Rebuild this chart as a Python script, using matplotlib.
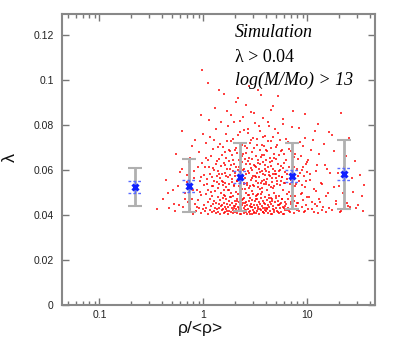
import matplotlib
matplotlib.use("Agg")
import matplotlib.pyplot as plt
import numpy as np

# ---- data: halo cloud ----
rho_pts = [0.36,0.41,0.44,0.47,
0.51,0.53,0.55,0.58,0.6,0.62,
0.64,0.66,0.68,0.7,0.71,0.73,0.74,0.76,0.77,0.78,
0.8,0.81,0.83,0.84,0.85,0.87,0.88,0.89,0.91,0.92,0.94,0.95,0.96,0.98,0.99,
1.01,1.02,1.04,1.05,1.06,1.07,1.09,1.1,1.11,1.12,1.14,1.15,1.16,1.17,1.18,1.19,1.2,1.21,1.22,1.23,1.24,1.25,
1.26,1.27,1.28,1.29,1.3,1.31,1.32,1.33,1.34,1.35,1.36,1.37,1.38,1.39,1.4,1.41,1.42,1.43,1.44,1.45,1.46,1.47,1.48,1.5,1.51,1.52,1.53,1.54,1.56,1.57,
1.58,1.59,1.6,1.61,1.62,1.63,1.64,1.65,1.66,1.67,1.69,1.7,1.71,1.72,1.73,1.75,1.76,1.77,1.78,1.8,1.81,1.82,1.84,1.85,1.86,1.87,1.89,1.9,1.91,1.93,1.94,1.95,1.97,1.98,1.99,
2.0,2.01,2.03,2.04,2.05,2.07,2.08,2.09,2.11,2.12,2.14,2.15,2.16,2.18,2.19,2.2,2.22,2.23,2.25,2.26,2.28,2.29,2.31,2.32,2.34,2.35,2.37,2.38,2.4,2.41,2.43,2.44,2.45,2.47,2.48,2.49,2.5,2.51,
2.53,2.54,2.56,2.57,2.59,2.6,2.62,2.63,2.65,2.66,2.68,2.69,2.71,2.73,2.74,2.76,2.77,2.79,2.81,2.82,2.84,2.86,2.87,2.89,2.91,2.92,2.94,2.96,2.97,2.99,3.01,3.03,3.04,3.06,3.08,3.1,3.12,3.14,
3.17,3.19,3.21,3.23,3.25,3.27,3.29,3.31,3.33,3.35,3.37,3.39,3.41,3.43,3.45,3.47,3.49,3.52,3.54,3.56,3.58,3.61,3.63,3.65,3.68,3.7,3.72,3.75,3.77,3.79,3.82,3.84,3.87,3.89,3.92,3.95,
3.98,4.01,4.04,4.07,4.1,4.13,4.16,4.19,4.22,4.25,4.28,4.31,4.34,4.37,4.4,4.43,4.46,4.49,4.53,4.56,4.59,4.63,4.66,4.69,4.73,4.76,4.8,4.83,4.87,4.91,4.95,4.98,
5.03,5.08,5.12,5.17,5.21,5.26,5.3,5.35,5.4,5.44,5.49,5.54,5.59,5.64,5.69,5.74,5.79,5.84,5.89,5.94,6.0,6.05,6.11,6.16,6.22,6.27,
6.35,6.43,6.5,6.58,6.66,6.74,6.82,6.9,6.98,7.07,7.15,7.24,7.32,7.41,7.5,7.59,7.68,7.77,7.86,7.92,
8.05,8.2,8.35,8.5,8.66,8.82,8.98,9.15,9.3,9.45,9.6,9.75,9.88,9.97,
10.2,10.6,10.9,11.2,11.5,11.8,12.0,12.3,12.5,
12.9,13.5,14.0,14.6,15.1,15.6,
16.3,17.1,17.9,18.8,19.6,
20.8,22.1,23.5,24.6,
26.8,29.5,33.5]

lam_pts = [0.0425,0.0468,0.0553,0.0431,
0.0512,0.0418,0.0672,0.0445,0.0589,0.0774,
0.0436,0.0497,0.0412,0.0545,0.0458,0.0635,0.0427,0.0521,0.0706,0.0471,
0.0404,0.0563,0.0449,0.0733,0.0418,0.0512,0.0466,0.0611,0.0432,0.0548,0.0408,0.0842,0.0487,0.1045,0.0426,
0.0441,0.0578,0.0415,0.0493,0.0652,0.0429,0.0536,0.0457,0.0987,0.0405,0.0614,0.0472,0.0421,0.0745,0.0503,0.0438,0.0569,0.0411,0.0484,0.0691,0.0447,0.0527,
0.0416,0.0461,0.0598,0.0432,0.0507,0.0409,0.0783,0.0453,0.0544,0.0424,0.0637,0.0479,0.0412,0.0518,0.0446,0.0956,0.0431,0.0582,0.0467,0.0403,0.0716,0.0495,0.0438,0.0552,0.0419,0.0664,0.0474,0.0427,0.0531,0.0451,
0.0407,0.0489,0.0621,0.0436,0.0542,0.0414,0.0758,0.0468,0.0425,0.0573,0.0448,0.0862,0.0401,0.0511,0.0433,0.0687,0.0459,0.0417,0.0536,0.0442,0.0603,0.0478,0.0411,0.0726,0.0498,0.0429,0.0559,0.0454,0.0406,0.0644,0.0485,0.0421,0.0527,0.0814,0.0439,
0.0463,0.0412,0.0586,0.0447,0.0503,0.0424,0.0695,0.0471,0.0408,0.0549,0.0435,0.0917,0.0492,0.0419,0.0612,0.0457,0.0431,0.0524,0.0768,0.0446,0.0403,0.0568,0.0481,0.0427,0.0659,0.0514,0.0441,0.0416,0.0597,0.0469,0.0835,0.0432,0.0538,0.0409,0.0476,0.0704,0.0452,0.0423,
0.0561,0.0437,0.0498,0.0414,0.0673,0.0455,0.0402,0.0532,0.0444,0.0781,0.0487,0.0426,0.0594,0.0461,0.0411,0.0519,0.0972,0.0438,0.0626,0.0473,0.0418,0.0555,0.0449,0.0731,0.0405,0.0506,0.0433,0.0648,0.0466,0.0421,0.0574,0.0494,0.0441,0.0853,0.0412,0.0528,0.0459,0.0617,
0.0429,0.0483,0.0407,0.0566,0.0445,0.0712,0.0468,0.0416,0.0541,0.0434,0.0629,0.0491,0.0403,0.0795,0.0457,0.0513,0.0425,0.0588,0.0448,0.0931,0.0474,0.0419,0.0552,0.0437,0.0667,0.0501,0.0411,0.0463,0.0745,0.0428,0.0536,0.0452,0.0406,0.0603,0.0479,0.0432,
0.0545,0.0418,0.0687,0.0464,0.0427,0.0508,0.0441,0.0812,0.0409,0.0577,0.0486,0.0433,0.0634,0.0455,0.0415,0.0523,0.0726,0.0447,0.0404,0.0562,0.0472,0.0884,0.0424,0.0517,0.0439,0.0651,0.0495,0.0413,0.0581,0.0458,0.0431,0.0703,
0.0476,0.0417,0.0549,0.0443,0.0762,0.0462,0.0408,0.0596,0.0484,0.0429,0.0532,0.0683,0.0451,0.0414,0.0567,0.0469,0.0825,0.0436,0.0512,0.0405,0.0628,0.0457,0.0422,0.0543,0.0738,0.0446,
0.0419,0.0581,0.0472,0.0431,0.0694,0.0503,0.0412,0.0556,0.0448,0.0791,0.0427,0.0529,0.0463,0.0614,0.0409,0.0485,0.0668,0.0437,0.0537,0.0421,
0.0574,0.0452,0.0416,0.0723,0.0491,0.0433,0.0598,0.0465,0.0411,0.0847,0.0521,0.0442,0.0636,0.0478,
0.0424,0.0553,0.0687,0.0457,0.0412,0.0772,0.0506,0.0438,0.0621,
0.0468,0.0541,0.0419,0.0715,0.0483,0.0604,
0.0432,0.0756,0.0524,0.0447,0.0584,
0.0413,0.0497,0.0663,0.0439,
0.0562,0.0428,0.0485]

# second batch of cloud points (middle band and far right)
rho_pts2 = [0.46,0.52,0.57,0.63,0.67,0.69,0.75,0.79,0.82,0.86,0.9,0.93,0.95,0.97,0.99,
1.01,1.03,1.05,1.08,1.1,1.12,1.14,1.16,1.19,1.21,1.24,1.26,1.28,1.3,1.32,1.35,1.37,1.39,1.41,1.43,1.45,1.47,1.49,1.51,1.53,1.55,1.57,1.58,1.59,1.6,
1.62,1.64,1.66,1.68,1.7,1.72,1.74,1.76,1.78,1.8,1.82,1.84,1.86,1.88,1.9,1.92,1.94,1.96,1.98,2.0,2.03,2.05,2.07,2.1,2.12,2.15,2.17,2.2,2.22,2.25,2.27,2.3,2.32,2.35,2.37,2.4,2.42,2.44,2.46,2.48,2.5,2.52,2.55,2.57,2.6,
2.62,2.65,2.68,2.7,2.73,2.76,2.79,2.82,2.85,2.88,2.91,2.94,2.97,3.0,3.03,3.06,3.09,3.12,3.15,3.18,3.21,3.24,3.27,3.3,3.33,3.36,3.39,3.42,3.45,3.48,3.51,3.54,3.57,3.6,3.63,3.66,3.69,3.72,3.75,3.78,3.81,3.84,3.87,3.9,3.93,3.96,3.99,4.02,4.05,4.08,
4.12,4.16,4.2,4.24,4.28,4.32,4.36,4.4,4.44,4.48,4.52,4.56,4.6,4.64,4.68,4.72,4.77,4.81,4.86,4.9,4.95,5.0,5.05,5.1,5.15,5.2,5.25,5.3,5.36,5.41,5.47,5.53,5.59,5.65,5.71,5.78,5.85,5.92,6.0,6.1,
6.3,6.42,6.55,6.68,6.8,6.94,7.08,7.22,7.36,7.5,7.65,7.8,7.95,8.1,8.25,8.4,8.55,8.7,8.86,9.02,9.18,9.34,9.5,9.66,9.82,9.97,7.0,8.0,8.9,9.6,
10.1,10.4,10.7,11.0,11.3,11.6,11.9,12.2,12.6,13.0,13.3,13.8,14.3,14.8,15.3,15.9,16.6,17.4,18.2,19.0,20.0,21.3,22.6,23.9,25.2,26.0,27.8,28.5,30.5,31.8,34.0,35.5,12.8,16.0,21.0,
1.52,1.68,1.83,1.97,2.11,2.27,2.43,2.58,2.74,2.9,3.07,3.22,3.38,3.55,3.71,3.88,4.06,4.24,4.43,4.61,4.8,5.0,5.22,5.45,5.67,5.9,6.15,6.4,6.7,7.0,1.6,2.0,2.36,2.8,3.3,3.9,4.5,5.3,6.0,7.4]

lam_pts2 = [0.0497,0.0446,0.0528,0.0603,0.0469,0.0578,0.0651,0.0509,0.0592,0.0434,0.0677,0.0501,0.0569,0.0628,0.0759,
0.0532,0.0612,0.0718,0.0559,0.0643,0.0508,0.0823,0.0581,0.0662,0.0528,0.0609,0.0734,0.0551,0.0876,0.0624,0.0574,0.0703,0.0596,0.0535,0.0648,0.0565,0.0811,0.0617,0.0583,0.0702,0.0546,0.0938,0.0631,0.0509,0.0677,
0.0587,0.0651,0.0523,0.0726,0.0604,0.0566,0.0793,0.0639,0.0512,0.0685,0.0578,0.0619,0.0842,0.0547,0.0665,0.0593,0.0737,0.0533,0.0626,0.0689,0.0571,0.0902,0.0614,0.0548,0.0674,0.0597,0.0752,0.0526,0.0643,0.0588,0.0817,0.0609,0.0556,0.0711,0.0632,0.0573,0.0668,0.0539,0.0776,0.0601,0.0647,0.0516,0.0889,0.0624,0.0579,
0.0695,0.0541,0.0637,0.0763,0.0585,0.0652,0.0527,0.0718,0.0606,0.0858,0.0562,0.0679,0.0598,0.0741,0.0534,0.0623,0.0695,0.0574,0.0806,0.0611,0.0549,0.0662,0.0587,0.0736,0.0521,0.0644,0.0953,0.0602,0.0569,0.0689,0.0627,0.0774,0.0543,0.0658,0.0596,0.0712,0.0518,0.0635,0.0829,0.0581,0.0667,0.0553,0.0704,0.0619,0.0577,0.0748,0.0536,0.0641,0.0592,0.0681,
0.0558,0.0727,0.0614,0.0531,0.0796,0.0589,0.0653,0.0571,0.0698,0.0615,0.0865,0.0544,0.0637,0.0582,0.0747,0.0603,0.0527,0.0671,0.0594,0.0779,0.0562,0.0648,0.0581,0.0712,0.0538,0.0626,0.0927,0.0573,0.0664,0.0599,0.0732,0.0548,0.0617,0.0688,0.0566,0.0805,0.0607,0.0541,0.0672,0.0589,
0.0641,0.0557,0.0724,0.0612,0.0535,0.0683,0.0594,0.0861,0.0572,0.0656,0.0529,0.0717,0.0603,0.0648,0.0551,0.0785,0.0587,0.0663,0.0532,0.0704,0.0612,0.0574,0.0739,0.0551,0.0627,0.0589,0.0481,0.0452,0.0497,0.0418,
0.0643,0.0479,0.0582,0.0426,0.0731,0.0514,0.0448,0.0596,0.0409,0.0672,0.0457,0.0538,0.0434,0.0619,0.0412,0.0498,0.0584,0.0421,0.0683,0.0462,0.0527,0.0416,0.0612,0.0453,0.0742,0.0434,0.0501,0.0638,0.0443,0.0577,0.0418,0.0531,0.0802,0.0769,0.0851,
0.0442,0.0415,0.0478,0.0429,0.0461,0.0403,0.0452,0.0419,0.0487,0.0436,0.0408,0.0469,0.0427,0.0493,0.0414,0.0448,0.0431,0.0476,0.0402,0.0459,0.0423,0.0484,0.0411,0.0446,0.0472,0.0405,0.0438,0.0491,0.0417,0.0455,0.0481,0.0437,0.0466,0.0401,0.0489,0.0421,0.0474,0.0444,0.0428,0.0463]

# binned means with scatter bars
bin_rho = [0.22, 0.72, 2.25, 7.2, 22.3]
bin_lam = [0.0524, 0.0529, 0.0566, 0.0571, 0.0580]
bin_lo = [0.0440, 0.0411, 0.0415, 0.0424, 0.0424]
bin_hi = [0.0607, 0.0646, 0.0717, 0.0717, 0.0731]
bin_err = [0.0027, 0.0027, 0.0027, 0.0027, 0.0027]

n1 = min(len(rho_pts), len(lam_pts))
n2 = min(len(rho_pts2), len(lam_pts2))
xs = list(rho_pts[:n1]) + list(rho_pts2[:n2])
ys = list(lam_pts[:n1]) + list(lam_pts2[:n2])

fig = plt.figure(figsize=(3.95, 3.38), dpi=100)
ax = fig.add_axes([62/395, 1-304.7/338, 313/395, 290.7/338])

ax.scatter(xs, ys, s=4.5, marker='s', c='#ff0000', alpha=0.75, linewidths=0, zorder=2)

bx = np.array(bin_rho); by = np.array(bin_lam)
lo = by - np.array(bin_lo); hi = np.array(bin_hi) - by
eb = ax.errorbar(bx, by, yerr=[lo, hi], fmt='none', ecolor='#b0b0b0', elinewidth=2,
                 capsize=5, capthick=1.5, zorder=3)
for cl in eb[1]:
    cl.set_color('#666666')
be = np.array(bin_err)
f = 10**(7/104)
ax.hlines(np.concatenate([by-be, by+be]), np.concatenate([bx/f, bx/f]), np.concatenate([bx*f, bx*f]),
          colors='#5a6cff', linestyles=(0, (2, 1.5)), linewidth=1, zorder=4)
ax.vlines(bx, by-be, by+be, colors='#5a6cff', linewidth=1, zorder=4)
ax.plot(bx, by, linestyle='none', marker='x', color='#1020ff', markersize=5, mew=2.2, zorder=5)

ax.set_xscale('log')
ax.set_xlim(0.0437, 44.8)
ax.set_ylim(0, 0.1292)
ax.set_yticks([0, 0.02, 0.04, 0.06, 0.08, 0.1, 0.12])
ax.set_yticklabels(['0', '0.02', '0.04', '0.06', '0.08', '0.1', '0.12'])
ax.set_xticks([0.1, 1, 10])
ax.set_xticklabels(['0.1', '1', '10'])

for lab in ax.get_xticklabels() + ax.get_yticklabels():
    lab.set_fontfamily(['Liberation Sans', 'DejaVu Sans'])
    lab.set_fontsize(7.5)
    lab.set_color('#222222')

ax.tick_params(which='both', direction='in', top=True, right=True, color='#777777')
ax.tick_params(which='major', length=5, width=1)
ax.tick_params(axis='y', which='major', pad=6)
ax.tick_params(axis='x', which='major', pad=4)
ax.tick_params(which='minor', length=3, width=1)
for sp in ax.spines.values():
    sp.set_color('#888888')
    sp.set_linewidth(1.5)

fig.text(200/395, 1-329/338, 'ρ/<ρ>', ha='center', va='center', fontsize=12.5,
         family=['Liberation Sans', 'DejaVu Sans'], color='#111111')
fig.text(10/395, 1-158/338, 'λ', ha='center', va='center', rotation=90, fontsize=13,
         family=['Liberation Sans', 'DejaVu Sans'], color='#111111')

ax.text(0.553, 0.935, 'Simulation', transform=ax.transAxes, ha='left', va='center',
        fontsize=13, style='italic', family=['Liberation Serif', 'DejaVu Serif'], zorder=6)
ax.text(0.553, 0.852, 'λ > 0.04', transform=ax.transAxes, ha='left', va='center',
        fontsize=13, family=['Liberation Serif', 'DejaVu Serif'], zorder=6)
ax.text(0.553, 0.773, 'log(M/Mo) > 13', transform=ax.transAxes, ha='left', va='center',
        fontsize=13, style='italic', family=['Liberation Serif', 'DejaVu Serif'], zorder=6)

fig.savefig('out.png', dpi=100)
